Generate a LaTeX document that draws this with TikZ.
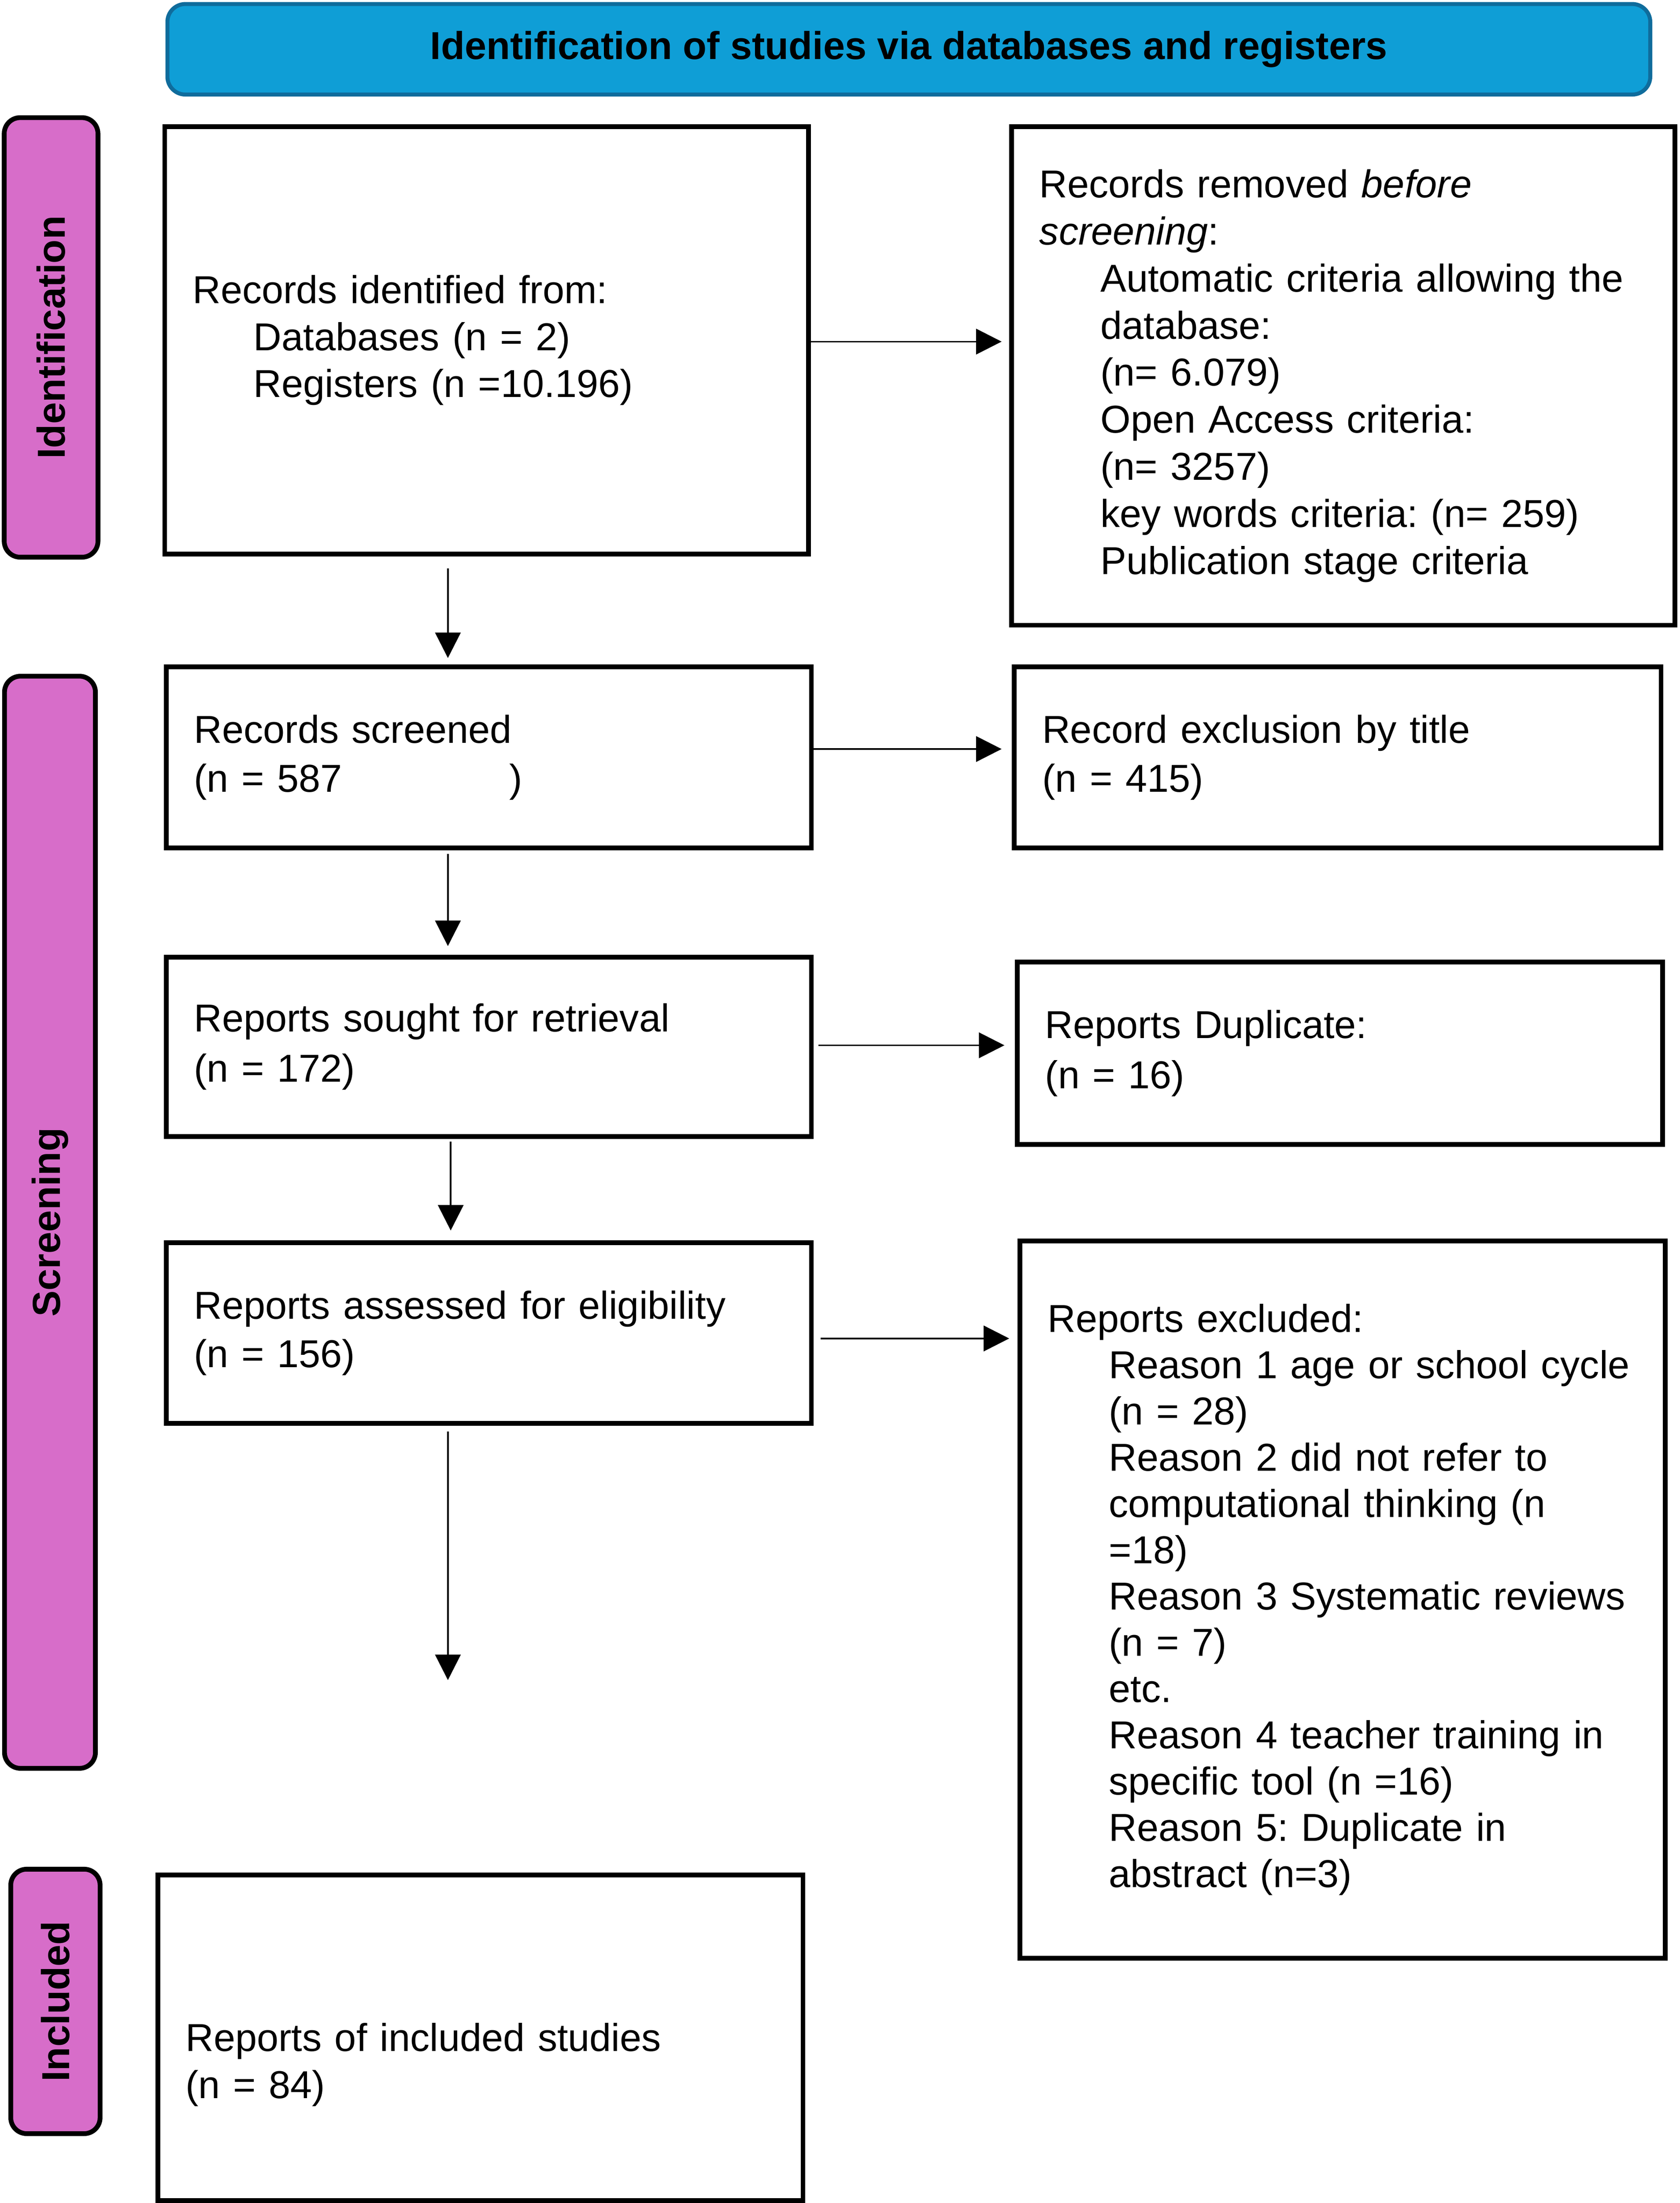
\documentclass[tikz,border=0pt]{standalone}
\usepackage{fontspec}
\setmainfont{Liberation Sans}
\usetikzlibrary{arrows.meta,calc}
\definecolor{bannerfill}{HTML}{0F9ED6}
\definecolor{bannerdraw}{HTML}{0F6C9C}
\definecolor{phasefill}{HTML}{D76DC9}
\newcommand{\indnt}{\hspace*{15.3pt}}
\frenchspacing
\begin{document}
\begin{tikzpicture}[x=0.351pt,y=-0.351pt,
  boxnode/.style={draw=black, line width=1.2pt, rectangle, anchor=north west,
    inner xsep=7pt, inner ysep=0pt, align=left,
    font=\fontsize{9.75pt}{11.8pt}\selectfont\frenchspacing},
  phase/.style={draw=black, fill=phasefill, line width=1.2pt, rounded corners=4pt,
    rotate=90, inner sep=0pt, font=\fontsize{9.8pt}{11pt}\selectfont\bfseries},
  banner/.style={draw=bannerdraw, fill=bannerfill, line width=1pt, rounded corners=4.5pt,
    inner sep=0pt, font=\fontsize{9.75pt}{11pt}\selectfont\bfseries},
  arr/.style={line width=0.4pt, -{Triangle[length=6.4pt,width=6.4pt]}},
]
\useasboundingbox (0,0) rectangle (1200,1573.5);

% banner
\node[banner, minimum width=371.85pt, minimum height=22.7pt] (title) at (649.3,35.2)
  {Identification of studies via databases and registers};

% phase bars
\node[phase, minimum width=110.2pt, minimum height=23.5pt] (pid) at (36.5,241) {Identification};
\node[phase, minimum width=273.8pt, minimum height=22.8pt] (pscr) at (35.7,873) {Screening};
\node[phase, minimum width=66.3pt, minimum height=22.4pt] (pinc) at (39.6,1429.5) {Included};

% left column
\node[boxnode, minimum width=161.46pt, minimum height=107.16pt, text width=147.46pt] (b1) at (116,88.7)
  {Records identified from:\\ \indnt Databases (n = 2)\\ \indnt Registers (n =10.196)};
\node[boxnode, minimum width=161.8pt, minimum height=45.38pt, text width=147.8pt,
  font=\fontsize{9.75pt}{12.2pt}\selectfont] (b3) at (117,474.7)
  {Records screened\\(n = 587\hspace{42pt})};
\node[boxnode, minimum width=161.8pt, minimum height=44.93pt, text width=147.8pt,
  font=\fontsize{9.75pt}{12.6pt}\selectfont] (b5) at (117,682)
  {Reports sought for retrieval\\(n = 172)};
\node[boxnode, minimum width=161.8pt, minimum height=45.28pt, text width=147.8pt,
  font=\fontsize{9.75pt}{12.2pt}\selectfont] (b7) at (117,886)
  {Reports assessed for eligibility\\(n = 156)};
\node[boxnode, minimum width=161.8pt, minimum height=81.57pt, text width=147.8pt,
  font=\fontsize{9.75pt}{11.8pt}\selectfont] (b9) at (111,1337.6)
  {\rule{0pt}{20.5pt}Reports of included studies\\(n = 84)};

% right column
\node[boxnode, minimum width=166.37pt, minimum height=125pt, text width=152.37pt] (b2) at (721,88.7)
  {Records removed \textit{before}\\ \textit{screening}:\\
   \indnt Automatic criteria allowing the\\ \indnt database:\\ \indnt (n= 6.079)\\
   \indnt Open Access criteria:\\ \indnt (n= 3257)\\ \indnt key words criteria: (n= 259)\\
   \indnt Publication stage criteria};
\node[boxnode, minimum width=162.16pt, minimum height=45.38pt, text width=148.16pt,
  font=\fontsize{9.75pt}{12.2pt}\selectfont] (b4) at (723,474.7)
  {Record exclusion by title\\(n = 415)};
\node[boxnode, minimum width=161.8pt, minimum height=45.67pt, text width=147.8pt,
  font=\fontsize{9.75pt}{12.6pt}\selectfont] (b6) at (725,685.5)
  {Reports Duplicate:\\(n = 16)};
\node[boxnode, minimum width=161.8pt, minimum height=179.85pt, text width=147.8pt,
  font=\fontsize{9.75pt}{11.6pt}\selectfont] (b8) at (727,884.6)
  {Reports excluded:\\ \indnt Reason 1 age or school cycle\\ \indnt (n = 28)\\
   \indnt Reason 2 did not refer to\\ \indnt computational thinking (n\\ \indnt =18)\\
   \indnt Reason 3 Systematic reviews\\ \indnt (n = 7)\\ \indnt etc.\\
   \indnt Reason 4 teacher training in\\ \indnt specific tool (n =16)\\
   \indnt Reason 5: Duplicate in\\ \indnt abstract (n=3)};

% helper coordinates
\coordinate (ax) at (320,0);
\coordinate (axb) at (322,0);
\coordinate (h1) at (0,244);
\coordinate (h2) at (0,535);
\coordinate (h3) at (0,746.6);
\coordinate (h4) at (0,956);
\coordinate (endv) at (320,1200);

% vertical arrows
\draw[arr, shorten <=3pt, shorten >=1.65pt] (b1.south -| ax) -- (b3.north -| ax);
\draw[arr, shorten <=0.9pt, shorten >=2.2pt] (b3.south -| ax) -- (b5.north -| ax);
\draw[arr, shorten <=0.7pt, shorten >=2.5pt] (b5.south -| axb) -- (b7.north -| axb);
\draw[arr, shorten <=1.4pt] (b7.south -| ax) -- (endv);

% horizontal arrows
\draw[arr, shorten >=1.9pt] (b1.east |- h1) -- (b2.west |- h1);
\draw[arr, shorten >=2.6pt] (b3.east |- h2) -- (b4.west |- h2);
\draw[arr, shorten <=1.2pt, shorten >=2.6pt] (b5.east |- h3) -- (b6.west |- h3);
\draw[arr, shorten <=1.75pt, shorten >=2.1pt] (b7.east |- h4) -- (b8.west |- h4);
\end{tikzpicture}
\end{document}
